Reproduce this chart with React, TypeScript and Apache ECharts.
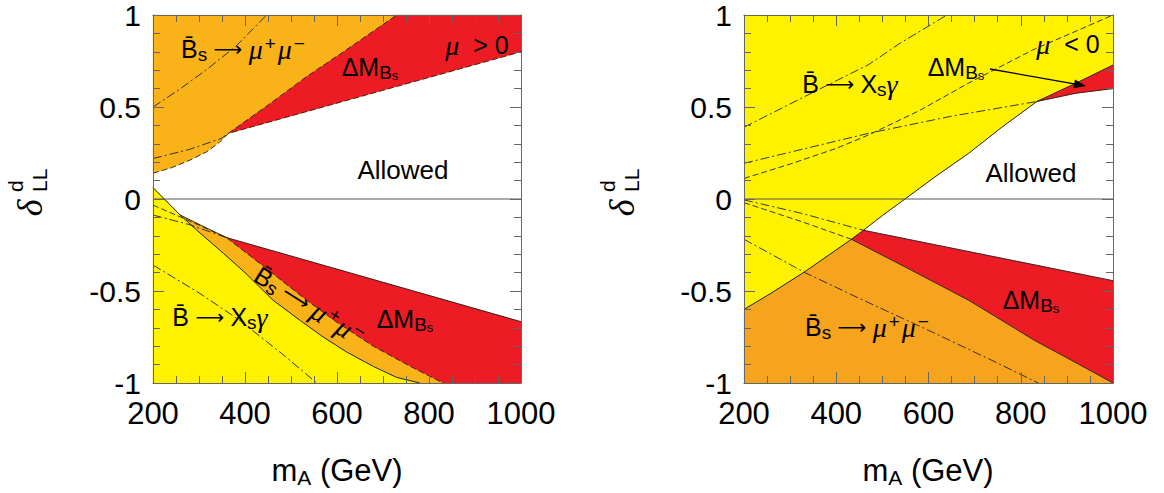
import React, { useEffect, useRef } from 'react';
import * as echarts from 'echarts';

type P = [number, number];

// ---------- axes ----------
const xMin = 200, xMax = 1000, xStep = 200;
const yMin = -1, yMax = 1, yStep = 0.5;

// ---------- left panel (mu > 0) ----------
const L_upperAllowed: P[] = [[200, 0.14], [240, 0.17], [281, 0.212], [317, 0.257], [345, 0.31], [364, 0.357], [1000, 0.80]];
const L_dmUpper: P[] = [[364, 0.357], [450, 0.51], [534, 0.665], [620, 0.81], [730, 1.0]];
const L_bsmmUpperDD: P[] = [[200, 0.50], [260, 0.60], [320, 0.71], [380, 0.83], [447, 1.0]];
const L_upperDD2: P[] = [[200, 0.22], [280, 0.27], [349, 0.33], [364, 0.357]];
const L_bsgLower: P[] = [[200, 0.062], [259, -0.087], [300, -0.18], [353, -0.295], [400, -0.40], [461, -0.55], [520, -0.66], [570, -0.75], [620, -0.83], [679, -0.91], [730, -0.97], [780, -1.0]];
const L_allowLower: P[] = [[259, -0.087], [310, -0.15], [360, -0.21], [1000, -0.667]];
const L_dmLower: P[] = [[360, -0.21], [440, -0.365], [534, -0.55], [600, -0.67], [679, -0.80], [760, -0.91], [831, -1.0]];
const L_nearZeroDash: P[] = [[200, -0.033], [280, -0.12], [360, -0.21]];
const L_nearZeroDD: P[] = [[200, -0.087], [280, -0.14], [360, -0.21]];
const L_lowerDD: P[] = [[200, -0.359], [300, -0.51], [389, -0.66], [480, -0.84], [556, -1.0]];

// ---------- right panel (mu < 0) ----------
const R_bsg: P[] = [[200, -0.60], [260, -0.51], [332, -0.395], [433, -0.219], [459, -0.17], [500, -0.09], [549, 0.0], [614, 0.12], [687, 0.248], [759, 0.39], [835, 0.53]];
const R_allowUpper: P[] = [[835, 0.53], [920, 0.575], [1000, 0.60]];
const R_redTop: P[] = [[835, 0.53], [920, 0.63], [1000, 0.728]];
const R_dd1: P[] = [[200, 0.39], [350, 0.58], [470, 0.73], [538, 0.846], [640, 1.0]];
const R_dash2: P[] = [[200, 0.112], [300, 0.19], [400, 0.275], [470, 0.348], [580, 0.48], [687, 0.63], [826, 0.81], [1000, 1.0]];
const R_dd3: P[] = [[200, 0.194], [470, 0.357], [650, 0.45], [835, 0.53]];
const R_dmLower: P[] = [[433, -0.219], [550, -0.37], [687, -0.55], [831, -0.77], [920, -0.89], [1000, -1.0]];
const R_allowLower: P[] = [[459, -0.17], [1000, -0.444]];
const R_dd4: P[] = [[200, -0.219], [332, -0.40], [450, -0.54], [614, -0.73], [740, -0.88], [838, -1.0]];
const R_nzDash: P[] = [[200, -0.02], [325, -0.123], [433, -0.219]];
const R_nzDD: P[] = [[200, -0.005], [325, -0.078], [459, -0.17]];

const zeroLine: P[] = [[xMin, 0], [xMax, 0]];

const YELLOW = '#FFF200';
const ORANGE_L = '#F9B218';
const ORANGE_R = '#F6A41E';
const RED = '#ED1C24';
const SANS = "'Liberation Sans', Arial, Helvetica, sans-serif";
const SERIF = "'Liberation Serif', 'Times New Roman', serif";

const rev = (a: P[]) => a.slice().reverse();

function poly(xi: number, yi: number, pts: P[], color: string, z: number) {
  return {
    type: 'custom', xAxisIndex: xi, yAxisIndex: yi, silent: true, z,
    data: [[pts[0][0], pts[0][1]]],
    renderItem: (_p: any, api: any) => ({
      type: 'polygon',
      shape: { points: pts.map((p) => api.coord(p)) },
      style: { fill: color, stroke: color, lineWidth: 0.3 },
    }),
  };
}

const DASH = [6, 3];
const DDOT = [9, 3, 2, 3];

function curve(xi: number, yi: number, pts: P[], type: any, width = 1, color = '#222', z = 5) {
  return {
    type: 'line', xAxisIndex: xi, yAxisIndex: yi, data: pts, symbol: 'none', showSymbol: false,
    silent: true, z, clip: true,
    lineStyle: { color, width, type },
  };
}

const rich: any = {
  n: { fontSize: 25, fontFamily: SANS, lineHeight: 30, verticalAlign: 'middle', fill: '#000' },
  sb: { fontSize: 19, fontFamily: SANS, lineHeight: 10, verticalAlign: 'bottom', fill: '#000' },
  ss: { fontSize: 13, fontFamily: SANS, lineHeight: 2, verticalAlign: 'bottom', fill: '#000' },
  g: { fontSize: 28, fontFamily: SERIF, fontStyle: 'italic', lineHeight: 30, verticalAlign: 'middle', fill: '#000' },
  sp: { fontSize: 19, fontFamily: SANS, lineHeight: 14, verticalAlign: 'top', fill: '#000', padding: [0, 2, 0, 2] },
  ar: { fontSize: 20, fontFamily: "'DejaVu Sans', sans-serif", lineHeight: 30, verticalAlign: 'middle', fill: '#000' },
  al: { fontSize: 26, fontFamily: SANS, lineHeight: 30, verticalAlign: 'middle', fill: '#000' },
  t: { fontSize: 31, fontFamily: SANS, lineHeight: 36, verticalAlign: 'middle', fill: '#000' },
  tsub: { fontSize: 21, fontFamily: SANS, lineHeight: 18, verticalAlign: 'bottom', fill: '#000' },
};

const BS_MUMU = '{n|B\u0304}{sb|s}{ar|\u00a0\u27f6\u00a0}{g|\u03bc}{sp|+}{g|\u03bc}{sp|\u2212}';
const B_XSG = '{n|B\u0304}{ar|\u00a0\u27f6\u00a0}{n|X}{sb|s}{g|\u03b3}';
const DM = '{n|\u0394M}{sb|B}{ss|s}';

function label(x: number, y: number, text: string, rotation = 0) {
  return {
    type: 'text', x, y, rotation, z: 100, silent: true,
    style: { text, rich, align: 'center', verticalAlign: 'middle', fill: '#000' },
  };
}

function yTitle(cx: number, cy: number) {
  return {
    type: 'group', x: cx, y: cy, rotation: Math.PI / 2, z: 100, silent: true,
    children: [
      { type: 'text', x: -12, y: 0, style: { text: '\u03b4', font: `italic 36px ${SERIF}`, align: 'center', verticalAlign: 'middle', fill: '#000' } },
      { type: 'text', x: 4, y: -15, style: { text: 'd', font: `21px ${SANS}`, align: 'left', verticalAlign: 'middle', fill: '#000' } },
      { type: 'text', x: 4, y: 9, style: { text: 'LL', font: `21px ${SANS}`, align: 'left', verticalAlign: 'middle', fill: '#000' } },
    ],
  };
}

function axisX(gridIndex: number, position: 'bottom' | 'top') {
  return {
    type: 'value', gridIndex, position, min: xMin, max: xMax, interval: xStep, z: 10,
    axisLine: { show: true, onZero: false, lineStyle: { color: '#666', width: 1 } },
    axisTick: { show: true, inside: true, length: 11, lineStyle: { color: '#666', width: 1 } },
    minorTick: { show: true, splitNumber: 4, length: 7, lineStyle: { color: '#666', width: 1 } },
    splitLine: { show: false },
    minorSplitLine: { show: false },
    axisLabel: {
      show: position === 'bottom', margin: 15, fontSize: 31, fontFamily: SANS, color: '#000',
      formatter: (v: number) => String(v),
    },
  };
}

function axisY(gridIndex: number, position: 'left' | 'right') {
  return {
    type: 'value', gridIndex, position, min: yMin, max: yMax, interval: yStep, z: 10,
    axisLine: { show: true, onZero: false, lineStyle: { color: '#666', width: 1 } },
    axisTick: { show: true, inside: true, length: 11, lineStyle: { color: '#666', width: 1 } },
    minorTick: { show: true, splitNumber: 5, length: 7, lineStyle: { color: '#666', width: 1 } },
    splitLine: { show: false },
    minorSplitLine: { show: false },
    axisLabel: {
      show: position === 'left', margin: 12, fontSize: 30, lineHeight: 26, fontFamily: SANS, color: '#000',
      formatter: (v: number) => String(v),
    },
  };
}

export default function App() {
  const ref = useRef<HTMLDivElement>(null);
  useEffect(() => {
    if (!ref.current) return;
    const chart = echarts.init(ref.current, undefined, { renderer: 'svg' });

    // left regions
    const L_orangeUp: P[] = [[xMin, yMax], ...L_upperAllowed, [xMax, yMax]];
    const L_redUp: P[] = [...L_dmUpper, [xMax, yMax], L_upperAllowed[L_upperAllowed.length - 1]];
    const L_orangeLow: P[] = [L_bsgLower[0], ...L_allowLower, [xMax, yMin], [xMin, yMin]];
    const L_redLow: P[] = [...L_allowLower.filter((p) => p[0] >= 360), [xMax, yMin], ...rev(L_dmLower)];
    const L_yellowLow: P[] = [...L_bsgLower, [xMin, yMin]];

    // right regions
    const R_yellow: P[] = [[xMin, yMax], [xMax, yMax], ...rev(R_allowUpper), ...rev(R_bsg)];
    const R_orange: P[] = [...R_bsg.filter((p) => p[0] <= 433), ...R_dmLower.slice(1), [xMin, yMin]];
    const R_redLow: P[] = [...R_bsg.filter((p) => p[0] >= 433 && p[0] <= 459), ...R_allowLower.slice(1), [xMax, yMin], ...rev(R_dmLower)];
    const R_redUp: P[] = [...R_redTop, ...rev(R_allowUpper).slice(0, -1)];

    const arrowStart: P = [990, 69];
    const arrowEnd: P = [1086, 86];
    const ang = Math.atan2(arrowEnd[1] - arrowStart[1], arrowEnd[0] - arrowStart[0]);
    const hl = 12, hw = 4.5;
    const bx = arrowEnd[0] - hl * Math.cos(ang), by = arrowEnd[1] - hl * Math.sin(ang);
    const head = [
      arrowEnd,
      [bx + hw * Math.sin(ang), by - hw * Math.cos(ang)],
      [bx - hw * Math.sin(ang), by + hw * Math.cos(ang)],
    ];

    chart.setOption({
      animation: false,
      backgroundColor: '#fff',
      grid: [
        { left: 153, top: 15, width: 368, height: 368, containLabel: false, outerBoundsMode: 'none' },
        { left: 744, top: 15, width: 369, height: 368, containLabel: false, outerBoundsMode: 'none' },
      ],
      xAxis: [axisX(0, 'bottom'), axisX(0, 'top'), axisX(1, 'bottom'), axisX(1, 'top')],
      yAxis: [axisY(0, 'left'), axisY(0, 'right'), axisY(1, 'left'), axisY(1, 'right')],
      series: [
        // left fills
        poly(0, 0, L_orangeUp, ORANGE_L, 1),
        poly(0, 0, L_redUp, RED, 2),
        poly(0, 0, L_orangeLow, ORANGE_L, 1),
        poly(0, 0, L_redLow, RED, 2),
        poly(0, 0, L_yellowLow, YELLOW, 3),
        // left lines
        curve(0, 0, L_upperAllowed, DASH, 0.9),
        curve(0, 0, L_dmUpper, DASH, 0.9),
        curve(0, 0, L_bsmmUpperDD, DDOT, 0.9),
        curve(0, 0, L_upperDD2, DDOT, 0.9),
        curve(0, 0, L_bsgLower, 'solid', 1),
        curve(0, 0, L_allowLower, 'solid', 0.9),
        curve(0, 0, L_dmLower, DASH, 0.9),
        curve(0, 0, L_nearZeroDash, DASH, 0.9),
        curve(0, 0, L_nearZeroDD, DDOT, 0.9),
        curve(0, 0, L_lowerDD, DDOT, 0.9),
        curve(0, 0, zeroLine, 'solid', 1, '#555', 6),
        // right fills
        poly(2, 2, R_yellow, YELLOW, 1),
        poly(2, 2, R_orange, ORANGE_R, 2),
        poly(2, 2, R_redLow, RED, 3),
        poly(2, 2, R_redUp, RED, 3),
        // right lines
        curve(2, 2, R_bsg, 'solid', 1),
        curve(2, 2, R_allowUpper, 'solid', 0.9),
        curve(2, 2, R_redTop, 'solid', 0.9),
        curve(2, 2, R_dd1, DDOT, 0.9),
        curve(2, 2, R_dash2, DASH, 0.9),
        curve(2, 2, R_dd3, DDOT, 0.9),
        curve(2, 2, R_dmLower, 'solid', 0.9),
        curve(2, 2, R_allowLower, 'solid', 0.9),
        curve(2, 2, R_dd4, DDOT, 0.9),
        curve(2, 2, R_nzDash, DASH, 0.9),
        curve(2, 2, R_nzDD, DDOT, 0.9),
        curve(2, 2, zeroLine, 'solid', 1, '#555', 6),
      ],
      graphic: [
        // left panel labels
        label(244, 49, BS_MUMU),
        label(370, 67, DM),
        label(477, 45, '{g|\u03bc}{n|\u00a0\u00a0>\u00a00}'),
        label(403, 170, '{al|Allowed}'),
        label(220, 317, B_XSG),
        label(310, 306, BS_MUMU, -0.56),
        label(405, 319, DM),
        // right panel labels
        label(850, 84, B_XSG),
        label(1068, 44, '{g|\u03bc}{n|\u00a0\u00a0<\u00a00}'),
        label(956, 67, DM),
        label(1031, 173, '{al|Allowed}'),
        label(1031, 300, DM),
        label(868, 327, BS_MUMU),
        { type: 'line', z: 100, silent: true, shape: { x1: arrowStart[0], y1: arrowStart[1], x2: bx, y2: by }, style: { stroke: '#000', lineWidth: 1.3 } },
        { type: 'polygon', z: 100, silent: true, shape: { points: head }, style: { fill: '#000' } },
        // axis titles
        label(337, 470, '{t|m}{tsub|A}{t|\u00a0(GeV)}'),
        label(928, 470, '{t|m}{tsub|A}{t|\u00a0(GeV)}'),
        yTitle(30, 196),
        yTitle(622, 196),
      ],
    });
    return () => chart.dispose();
  }, []);
  return <div ref={ref} style={{ position: 'absolute', left: 0, top: 0, width: 1164, height: 493 }} />;
}
